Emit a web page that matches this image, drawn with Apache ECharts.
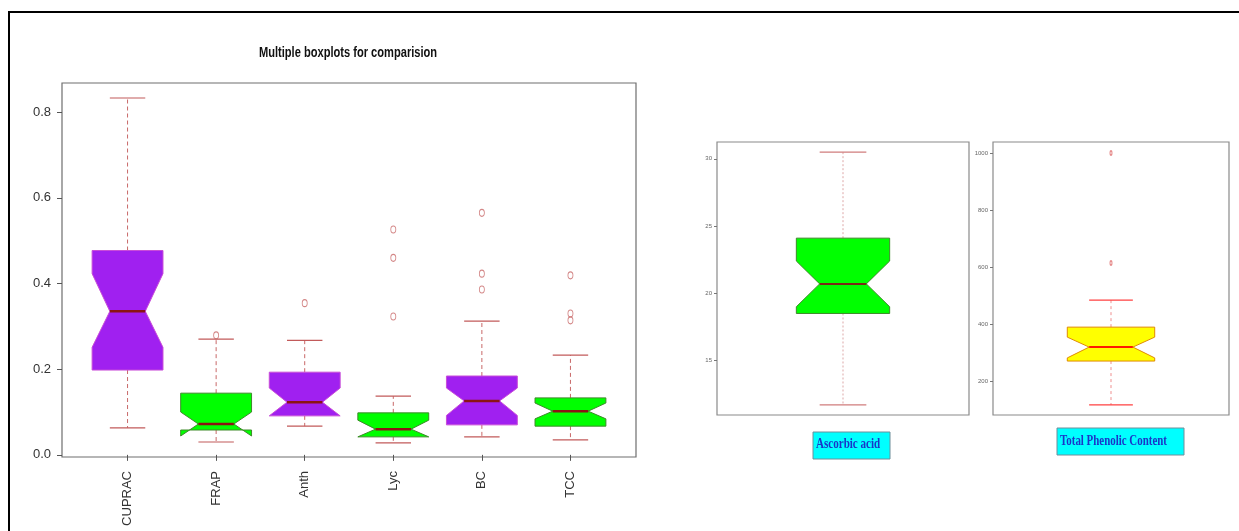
<!DOCTYPE html>
<html>
<head>
<meta charset="utf-8">
<script src="https://cdn.jsdelivr.net/npm/echarts@6/dist/echarts.min.js"></script>
<style>
  html, body { margin: 0; padding: 0; background: #fff; }
  #chart { width: 1239px; height: 531px; }
</style>
</head>
<body>
<div id="chart"></div>
<script>
// ---- Multiple boxplots: six antioxidant measures ----
const categories = ['CUPRAC', 'FRAP', 'Anth', 'Lyc', 'BC', 'TCC'];
const whiskerLow  = [0.063, 0.030, 0.067, 0.028, 0.042, 0.035];
const lowerHinge  = [0.198, 0.058, 0.091, 0.042, 0.070, 0.067];
const notchLow    = [0.251, 0.044, 0.091, 0.042, 0.092, 0.084];
const medians     = [0.335, 0.072, 0.123, 0.060, 0.126, 0.102];
const notchHigh   = [0.423, 0.100, 0.156, 0.081, 0.156, 0.121];
const upperHinge  = [0.477, 0.144, 0.193, 0.098, 0.184, 0.133];
const whiskerHigh = [0.833, 0.270, 0.267, 0.137, 0.312, 0.233];
const outliers    = [[], [0.279], [0.354], [0.526, 0.460, 0.323], [0.565, 0.423, 0.386], [0.419, 0.330, 0.314]];
const yTicksMain  = [0, 0.2, 0.4, 0.6, 0.8];

// ---- Ascorbic acid ----
const ascorbicStats = [11.7, 18.5, 19.0, 20.7, 22.4, 24.1, 30.5]; // low, Q1, notch low, median, notch high, Q3, high
const ascorbicOutliers = [];
const yTicksAscorbic = [15, 20, 25, 30];

// ---- Total Phenolic Content ----
const phenolicStats = [116, 270, 281, 319, 354, 389, 484];
const phenolicOutliers = [614, 1000];
const yTicksPhenolic = [200, 400, 600, 800, 1000];

const chart = echarts.init(document.getElementById('chart'), null, { renderer: 'canvas' });

// Notched box glyph drawn the way R's bxp builds it
function notchedBox(opts) {
  return function (params, api) {
    const x = api.value(0);
    const lo = api.value(1), q1 = api.value(2), nl = api.value(3), md = api.value(4),
          nh = api.value(5), q3 = api.value(6), hi = api.value(7);
    const unit = api.size([1, 0])[0];
    const w = unit * opts.halfWidth, wn = w / 2, wc = w / 2;
    const cx = api.coord([x, md])[0];
    const Y = v => api.coord([x, v])[1];
    const i = params.dataIndex;
    const fill = Array.isArray(opts.fill) ? opts.fill[i % opts.fill.length] : opts.fill;
    const border = Array.isArray(opts.border) ? opts.border[i % opts.border.length] : opts.border;
    const pts = [
      [cx - w, Y(q1)], [cx - w, Y(nl)], [cx - wn, Y(md)], [cx - w, Y(nh)], [cx - w, Y(q3)],
      [cx + w, Y(q3)], [cx + w, Y(nh)], [cx + wn, Y(md)], [cx + w, Y(nl)], [cx + w, Y(q1)]
    ];
    const wStyle = { stroke: opts.whisker, lineWidth: 1, lineDash: opts.dash };
    const cStyle = { stroke: opts.cap, lineWidth: 1.2 };
    return {
      type: 'group',
      children: [
        { type: 'line', shape: { x1: cx, y1: Y(q3), x2: cx, y2: Y(hi) }, style: wStyle },
        { type: 'line', shape: { x1: cx, y1: Y(q1), x2: cx, y2: Y(lo) }, style: wStyle },
        { type: 'line', shape: { x1: cx - wc, y1: Y(hi), x2: cx + wc, y2: Y(hi) }, style: cStyle },
        { type: 'line', shape: { x1: cx - wc, y1: Y(lo), x2: cx + wc, y2: Y(lo) }, style: cStyle },
        { type: 'polygon', shape: { points: pts }, style: { fill: fill, stroke: border, lineWidth: 1 } },
        { type: 'line', shape: { x1: cx - wn, y1: Y(md), x2: cx + wn, y2: Y(md) },
          style: { stroke: opts.median, lineWidth: opts.medianWidth } }
      ]
    };
  };
}

const mainData = categories.map((c, i) => [i + 1, whiskerLow[i], lowerHinge[i], notchLow[i], medians[i],
  notchHigh[i], upperHinge[i], whiskerHigh[i]]);
const mainOutliers = [];
outliers.forEach((arr, i) => arr.forEach(v => mainOutliers.push([i + 1, v])));

const frameColor = '#6e6e6e';
const tickColor = '#555';

const option = {
  backgroundColor: '#ffffff',
  animation: false,
  grid: [
    { left: 62, top: 83, width: 574, height: 374, show: true, borderColor: frameColor, borderWidth: 1.2, containLabel: false },
    { left: 717, top: 142, width: 252, height: 273, show: true, borderColor: '#8a8a8a', borderWidth: 1.2, containLabel: false },
    { left: 993, top: 142, width: 236, height: 273, show: true, borderColor: '#8a8a8a', borderWidth: 1.2, containLabel: false }
  ],
  xAxis: [
    {
      gridIndex: 0, type: 'value', min: 0.26, max: 6.74,
      axisLine: { show: false }, splitLine: { show: false },
      axisTick: { show: true, length: 6, customValues: [1, 2, 3, 4, 5, 6], lineStyle: { color: tickColor } },
      axisLabel: {
        customValues: [1, 2, 3, 4, 5, 6], rotate: 90, margin: 14,
        formatter: v => categories[Math.round(v) - 1] || '',
        fontFamily: 'Liberation Sans, Arial, sans-serif', fontSize: 13, color: '#333'
      }
    },
    { gridIndex: 1, type: 'value', min: 0.46, max: 1.54, show: false },
    { gridIndex: 2, type: 'value', min: 0.46, max: 1.54, show: false }
  ],
  yAxis: [
    {
      gridIndex: 0, type: 'value', min: -0.005, max: 0.868,
      axisLine: { show: false }, splitLine: { show: false },
      axisTick: { show: true, length: 5, customValues: yTicksMain, lineStyle: { color: tickColor } },
      axisLabel: {
        customValues: yTicksMain, margin: 11, formatter: v => v.toFixed(1),
        fontFamily: 'Liberation Sans Narrow, Liberation Sans, Arial, sans-serif', fontSize: 13, color: '#333'
      }
    },
    {
      gridIndex: 1, type: 'value', min: 10.95, max: 31.25,
      axisLine: { show: false }, splitLine: { show: false },
      axisTick: { show: true, length: 3, customValues: yTicksAscorbic, lineStyle: { color: '#777' } },
      axisLabel: { customValues: yTicksAscorbic, margin: 5, fontSize: 6, color: '#666',
        formatter: v => String(v), fontFamily: 'Liberation Sans, Arial, sans-serif' }
    },
    {
      gridIndex: 2, type: 'value', min: 80.7, max: 1038.6,
      axisLine: { show: false }, splitLine: { show: false },
      axisTick: { show: true, length: 3, customValues: yTicksPhenolic, lineStyle: { color: '#777' } },
      axisLabel: { customValues: yTicksPhenolic, margin: 5, fontSize: 6, color: '#666',
        formatter: v => String(v), fontFamily: 'Liberation Sans, Arial, sans-serif' }
    }
  ],
  series: [
    {
      type: 'custom', xAxisIndex: 0, yAxisIndex: 0,
      renderItem: notchedBox({
        halfWidth: 0.4, fill: ['#A020F0', '#00FF00'], border: ['#C84CD8', '#3E8A2A'],
        whisker: '#C86868', cap: '#C25A5A', dash: [4, 3], median: '#8B1414', medianWidth: 2.5
      }),
      encode: { x: 0, y: [1, 2, 3, 4, 5, 6, 7] },
      data: mainData, silent: true
    },
    {
      type: 'scatter', xAxisIndex: 0, yAxisIndex: 0, symbol: 'circle', symbolSize: [5, 7],
      itemStyle: { color: 'rgba(0,0,0,0)', borderColor: '#C86868', borderWidth: 1 },
      data: mainOutliers, silent: true
    },
    {
      type: 'custom', xAxisIndex: 1, yAxisIndex: 1,
      renderItem: notchedBox({
        halfWidth: 0.2, fill: '#00FF00', border: '#3E8A2A',
        whisker: '#DDA8A8', cap: '#D07C7C', dash: [2, 2], median: '#7A2A18', medianWidth: 2
      }),
      encode: { x: 0, y: [1, 2, 3, 4, 5, 6, 7] },
      data: [[1].concat(ascorbicStats)], silent: true
    },
    {
      type: 'scatter', xAxisIndex: 1, yAxisIndex: 1, symbol: 'circle', symbolSize: [3, 4],
      itemStyle: { color: 'rgba(0,0,0,0)', borderColor: '#E07070', borderWidth: 1 },
      data: ascorbicOutliers.map(v => [1, v]), silent: true
    },
    {
      type: 'custom', xAxisIndex: 2, yAxisIndex: 2,
      renderItem: notchedBox({
        halfWidth: 0.2, fill: '#FFFF00', border: '#E08A00',
        whisker: '#F09090', cap: '#FF4040', dash: [3, 3], median: '#FF1A00', medianWidth: 2
      }),
      encode: { x: 0, y: [1, 2, 3, 4, 5, 6, 7] },
      data: [[1].concat(phenolicStats)], silent: true
    },
    {
      type: 'scatter', xAxisIndex: 2, yAxisIndex: 2, symbol: 'circle', symbolSize: [2, 4],
      itemStyle: { color: 'rgba(0,0,0,0)', borderColor: '#E07070', borderWidth: 1 },
      data: phenolicOutliers.map(v => [1, v]), silent: true
    }
  ],
  graphic: [
    { type: 'rect', z: 100, shape: { x: 9, y: 12, width: 1300, height: 600 },
      style: { fill: 'none', stroke: '#000', lineWidth: 2 }, silent: true },
    { type: 'text', x: 348, y: 53, scaleX: 0.74, z: 100,
      style: { text: 'Multiple boxplots for comparision', fill: '#111',
        font: 'bold 15px "Liberation Sans", Arial, sans-serif', textAlign: 'center', textVerticalAlign: 'middle' } },
    { type: 'rect', z: 100, shape: { x: 813, y: 432, width: 77, height: 27 },
      style: { fill: '#00FFFF', stroke: '#6F8E9A', lineWidth: 1 } },
    { type: 'text', x: 816, y: 444, scaleX: 0.79, z: 101,
      style: { text: 'Ascorbic acid', fill: '#1A35C8',
        font: 'bold 14px "Liberation Serif", "Times New Roman", serif', textAlign: 'left', textVerticalAlign: 'middle' } },
    { type: 'rect', z: 100, shape: { x: 1057, y: 428, width: 127, height: 27 },
      style: { fill: '#00FFFF', stroke: '#6F8E9A', lineWidth: 1 } },
    { type: 'text', x: 1060, y: 441, scaleX: 0.78, z: 101,
      style: { text: 'Total Phenolic Content', fill: '#1A35C8',
        font: 'bold 14px "Liberation Serif", "Times New Roman", serif', textAlign: 'left', textVerticalAlign: 'middle' } }
  ]
};

chart.setOption(option);
</script>
</body>
</html>
